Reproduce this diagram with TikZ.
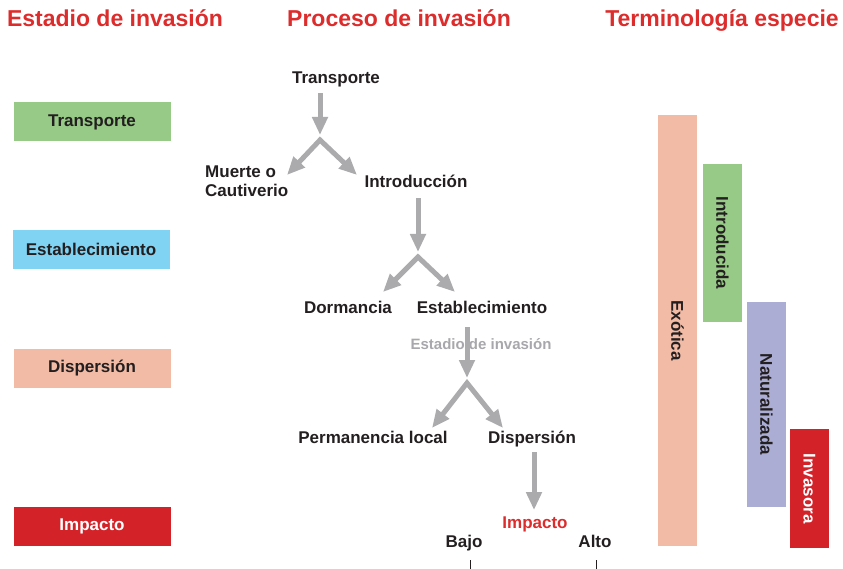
\documentclass[tikz,border=0pt]{standalone}
\usepackage{fontspec}
\setmainfont{Liberation Sans}
\usetikzlibrary{arrows.meta}
\definecolor{rojotit}{RGB}{220,44,44}
\definecolor{oscuro}{RGB}{35,31,32}
\definecolor{gris}{RGB}{171,171,174}
\definecolor{grislab}{RGB}{168,168,172}
\definecolor{verde}{RGB}{151,201,135}
\definecolor{azul}{RGB}{128,211,243}
\definecolor{salmon}{RGB}{242,187,166}
\definecolor{rojo}{RGB}{212,34,41}
\definecolor{lila}{RGB}{172,173,213}
\tikzset{
  titulo/.style  = {font=\fontsize{23}{26}\selectfont\bfseries, text=rojotit, anchor=base, inner sep=0pt},
  paso/.style    = {font=\fontsize{17}{19}\selectfont\bfseries, text=oscuro, anchor=base, inner sep=2pt, text depth=4pt},
  estadio/.style = {rectangle, minimum width=157pt, minimum height=39pt, inner sep=0pt, font=\fontsize{17}{19}\selectfont\bfseries, text=oscuro},
  barra/.style   = {rectangle, minimum height=39pt, inner sep=0pt, rotate=-90, font=\fontsize{17}{19}\selectfont\bfseries, text=oscuro},
  flecha/.style  = {draw=gris, line width=5pt, -{Triangle[width=15pt,length=18pt]}, shorten >=5pt},
  rama/.style    = {draw=gris, line width=5pt, {Triangle[width=15pt,length=18pt]}-{Triangle[width=15pt,length=18pt]}, line join=miter},
  marca/.style   = {draw=oscuro, line width=0.8pt}
}

\begin{document}
\begin{tikzpicture}[x=1pt, y=-1pt]
  \useasboundingbox (0,0) rectangle (843,569);

  % titulos
  \node[titulo] (t1) at (115,27) {Estadio de invasión};
  \node[titulo] (t2) at (399,27) {Proceso de invasión};
  \node[titulo] (t3) at (722,27) {Terminología especie};

  % estadios (izquierda)
  \node[estadio, fill=verde]  (e1) at (92,122)   {Transporte};
  \node[estadio, fill=azul]   (e2) at (91,249.5) {Establecimiento};
  \node[estadio, fill=salmon] (e3) at (92,368)   {Dispersión};
  \node[estadio, fill=rojo, text=white] (e4) at (92,526.5) {Impacto};

  % proceso (centro)
  \node[paso] (transp) at (336,84)  {Transporte};
  \node[paso, anchor=base west, align=left] (muerte) at (203,197) {Muerte o\\Cautiverio};
  \node[paso] (intro)  at (416,188) {Introducción};
  \node[paso] (dorm)   at (348,313) {Dormancia};
  \node[paso] (estab)  at (482,313) {Establecimiento};
  \node[paso, font=\fontsize{15}{17}\selectfont\bfseries, text=grislab] (lab) at (481,349) {Estadio de invasión};
  \node[paso] (perm)   at (373,443) {Permanencia local};
  \node[paso] (disp)   at (532,443) {Dispersión};
  \node[paso, text=rojotit] (imp) at (535,528) {Impacto};
  \node[paso] (bajo)   at (464,547) {Bajo};
  \node[paso] (alto)   at (595,547) {Alto};

  % bifurcaciones
  \coordinate (f1) at (320,140);
  \coordinate (f1l) at (287,175);
  \coordinate (f1r) at (357,175);
  \coordinate (f2) at (418,257);
  \coordinate (f2l) at (383,292);
  \coordinate (f2r) at (455,292);
  \coordinate (f3) at (467,383);
  \coordinate (f3l) at (432,428);
  \coordinate (f3r) at (503,428);

  \draw[flecha, shorten <=3pt] (transp.south -| f1) -- (f1);
  \draw[rama] (f1l) -- (f1) -- (f1r);
  \draw[flecha, shorten <=4pt] (intro.south -| f2) -- (f2);
  \draw[rama] (f2l) -- (f2) -- (f2r);
  \draw[flecha, shorten <=8pt] (estab.south -| f3) -- (f3);
  \draw[rama] (f3l) -- (f3) -- (f3r);
  \draw[flecha, shorten <=3pt, shorten >=4pt] (disp.south -| 534,0) -- (imp.north -| 534,0);

  % eje
  \draw[marca] (470,560) -- (470,569);
  \draw[marca] (596,560) -- (596,569);

  % terminologia (derecha)
  \node[barra, fill=salmon, minimum width=431pt] (exo) at (677.5,330.5) {Exótica};
  \node[barra, fill=verde,  minimum width=158pt] (int) at (722.5,243)   {Introducida};
  \node[barra, fill=lila,   minimum width=205pt] (nat) at (766.5,404.5) {Naturalizada};
  \node[barra, fill=rojo, text=white, minimum width=119pt] (inv) at (809.5,488.5) {Invasora};

\end{tikzpicture}
\end{document}
